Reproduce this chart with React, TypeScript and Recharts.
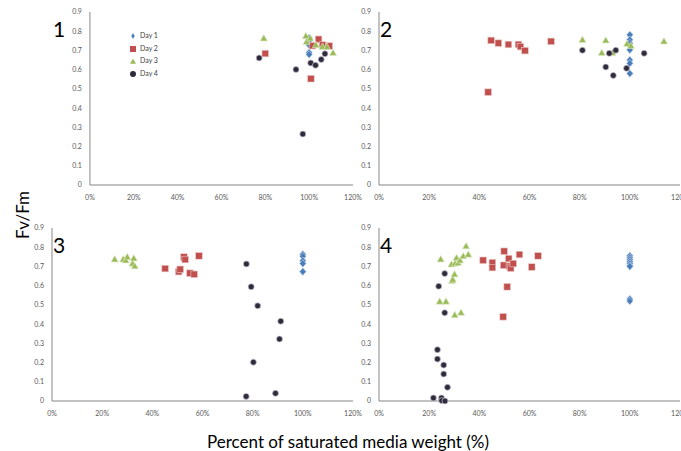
import React from "react";
import { Legend, Scatter, ScatterChart, XAxis, YAxis } from "recharts";

type Pt = { x: number; y: number };

// panel 1
const p1Day1: Pt[] = [
  { x: 100, y: 0.765 }, { x: 100, y: 0.75 }, { x: 100, y: 0.728 }, { x: 100, y: 0.689 }, { x: 100, y: 0.679 },
];
const p1Day2: Pt[] = [
  { x: 80, y: 0.684 }, { x: 100.8, y: 0.553 }, { x: 104.3, y: 0.758 }, { x: 101.5, y: 0.725 }, { x: 106.1, y: 0.728 }, { x: 109.2, y: 0.723 },
];
const p1Day3: Pt[] = [
  { x: 79.3, y: 0.763 }, { x: 98.5, y: 0.775 }, { x: 98.8, y: 0.745 }, { x: 100.5, y: 0.763 }, { x: 103.1, y: 0.728 },
  { x: 106.1, y: 0.719 }, { x: 108.1, y: 0.719 }, { x: 110.9, y: 0.687 },
];
const p1Day4: Pt[] = [
  { x: 77.2, y: 0.661 }, { x: 94, y: 0.601 }, { x: 97.1, y: 0.265 }, { x: 100.7, y: 0.635 }, { x: 102.9, y: 0.623 },
  { x: 105.5, y: 0.653 }, { x: 107.2, y: 0.683 },
];

// panel 2
const p2Day1: Pt[] = [
  { x: 100, y: 0.781 }, { x: 100, y: 0.755 }, { x: 100, y: 0.738 }, { x: 100, y: 0.703 }, { x: 100, y: 0.65 },
  { x: 100, y: 0.633 }, { x: 100, y: 0.58 },
];
const p2Day2: Pt[] = [
  { x: 43.5, y: 0.483 }, { x: 44.7, y: 0.752 }, { x: 47.6, y: 0.738 }, { x: 51.6, y: 0.731 }, { x: 55.6, y: 0.731 },
  { x: 56.4, y: 0.72 }, { x: 58.2, y: 0.699 }, { x: 68.6, y: 0.747 },
];
const p2Day3: Pt[] = [
  { x: 81.1, y: 0.755 }, { x: 88.8, y: 0.687 }, { x: 90.4, y: 0.752 }, { x: 93.1, y: 0.687 }, { x: 98.9, y: 0.734 },
  { x: 100.4, y: 0.724 }, { x: 113.6, y: 0.747 },
];
const p2Day4: Pt[] = [
  { x: 81.1, y: 0.701 }, { x: 90.4, y: 0.614 }, { x: 91.8, y: 0.685 }, { x: 93.4, y: 0.57 }, { x: 94.4, y: 0.701 },
  { x: 98.7, y: 0.607 }, { x: 105.7, y: 0.685 },
];

// panel 3
const p3Day1: Pt[] = [
  { x: 100, y: 0.763 }, { x: 100, y: 0.753 }, { x: 100, y: 0.729 }, { x: 100, y: 0.715 }, { x: 100, y: 0.673 },
];
const p3Day2: Pt[] = [
  { x: 45.1, y: 0.689 }, { x: 50.5, y: 0.673 }, { x: 51.1, y: 0.685 }, { x: 52.6, y: 0.749 }, { x: 53.1, y: 0.736 },
  { x: 55, y: 0.665 }, { x: 56.7, y: 0.659 }, { x: 58.6, y: 0.755 },
];
const p3Day3: Pt[] = [
  { x: 25, y: 0.737 }, { x: 28.4, y: 0.737 }, { x: 29.4, y: 0.732 }, { x: 30, y: 0.749 }, { x: 32.1, y: 0.715 },
  { x: 32.6, y: 0.742 }, { x: 33, y: 0.701 },
];
const p3Day4: Pt[] = [
  { x: 77.5, y: 0.713 }, { x: 79.4, y: 0.594 }, { x: 82, y: 0.495 }, { x: 91.2, y: 0.415 }, { x: 90.7, y: 0.322 },
  { x: 80.3, y: 0.202 }, { x: 77.4, y: 0.024 }, { x: 89.1, y: 0.04 },
];

// panel 4
const p4Day1: Pt[] = [
  { x: 100, y: 0.755 }, { x: 100, y: 0.745 }, { x: 100, y: 0.735 }, { x: 100, y: 0.725 }, { x: 100, y: 0.715 },
  { x: 100, y: 0.705 }, { x: 100, y: 0.7 }, { x: 100, y: 0.53 }, { x: 100, y: 0.52 },
];
const p4Day2: Pt[] = [
  { x: 41.5, y: 0.732 }, { x: 45.2, y: 0.72 }, { x: 45.2, y: 0.694 }, { x: 49.5, y: 0.438 }, { x: 49.9, y: 0.779 },
  { x: 49.7, y: 0.706 }, { x: 51.1, y: 0.594 }, { x: 51.7, y: 0.741 }, { x: 52, y: 0.701 }, { x: 52.5, y: 0.691 },
  { x: 53.5, y: 0.715 }, { x: 56, y: 0.762 }, { x: 60.9, y: 0.697 }, { x: 63.4, y: 0.755 },
];
const p4Day3: Pt[] = [
  { x: 24.6, y: 0.737 }, { x: 24.2, y: 0.517 }, { x: 26.7, y: 0.517 }, { x: 28.9, y: 0.71 }, { x: 29.1, y: 0.625 },
  { x: 29.4, y: 0.632 }, { x: 30.1, y: 0.659 }, { x: 30.3, y: 0.715 }, { x: 30.9, y: 0.744 }, { x: 31.5, y: 0.718 },
  { x: 32.3, y: 0.732 }, { x: 30.2, y: 0.447 }, { x: 32.7, y: 0.459 }, { x: 33.6, y: 0.753 }, { x: 34.7, y: 0.805 },
  { x: 35.6, y: 0.762 },
];
const p4Day4: Pt[] = [
  { x: 26.2, y: 0.663 }, { x: 23.8, y: 0.597 }, { x: 26.2, y: 0.459 }, { x: 23.3, y: 0.267 }, { x: 23.3, y: 0.218 },
  { x: 25.8, y: 0.187 }, { x: 25.8, y: 0.14 }, { x: 27.3, y: 0.071 }, { x: 21.7, y: 0.016 }, { x: 24.9, y: 0.016 },
  { x: 25, y: 0.002 }, { x: 26.3, y: 0 },
];

const xTicks = [0, 20, 40, 60, 80, 100, 120];
const yTicks = [0, 0.1, 0.2, 0.3, 0.4, 0.5, 0.6, 0.7, 0.8, 0.9];
const dayNames = ["Day 1", "Day 2", "Day 3", "Day 4"];

const BLUE = "#4a7ebb";
const RED = "#c0504d";
const GREEN = "#9bbb59";
const DARK = "#2f2b3b";
const FONT = "Lato, 'Open Sans', sans-serif";

const Diamond = (p: any) => (
  <path d={`M${p.cx},${p.cy - 3.8}L${p.cx + 3.3},${p.cy}L${p.cx},${p.cy + 3.8}L${p.cx - 3.3},${p.cy}Z`} fill={BLUE} stroke="#c9d8ee" strokeWidth={0.6} />
);
const Square = (p: any) => (
  <rect x={p.cx - 3.3} y={p.cy - 3.3} width={6.6} height={6.6} fill={RED} stroke="#ecc9c8" strokeWidth={0.6} />
);
const Triangle = (p: any) => (
  <path d={`M${p.cx},${p.cy - 3.8}L${p.cx + 3.6},${p.cy + 2.6}L${p.cx - 3.6},${p.cy + 2.6}Z`} fill={GREEN} stroke="#e1ebcc" strokeWidth={0.6} />
);
const Dot = (p: any) => <circle cx={p.cx} cy={p.cy} r={3} fill={DARK} stroke="#c8c4d6" strokeWidth={0.7} />;

function Panel({ left, top, days, label, legend }: { left: number; top: number; days: Pt[][]; label: string; legend?: boolean }) {
  const tick = { fontSize: 7, fill: "#595959", fontFamily: FONT };
  return (
    <div style={{ position: "absolute", left, top }}>
      <ScatterChart width={372} height={207} margin={{ top: 12, right: 19, bottom: 0, left: 0 }}>
        <XAxis
          type="number"
          dataKey="x"
          domain={[0, 120]}
          ticks={xTicks}
          tickFormatter={(v) => `${v}%`}
          tick={tick}
          tickLine={false}
          tickMargin={4}
          height={22}
          axisLine={{ stroke: "#868686" }}
          interval={0}
        />
        <YAxis
          type="number"
          dataKey="y"
          domain={[0, 0.9]}
          ticks={yTicks}
          tick={tick}
          tickLine={false}
          width={52}
          axisLine={{ stroke: "#868686" }}
          interval={0}
        />
        {legend && (
          <Legend
            layout="vertical"
            align="left"
            verticalAlign="top"
            iconSize={6}
            wrapperStyle={{ left: 130, top: 29, fontSize: 7, fontFamily: FONT, lineHeight: "12.7px" }}
            formatter={(v) => <span style={{ color: "#404040" }}>{v}</span>}
          />
        )}
        <Scatter name={dayNames[0]} data={days[0]} fill={BLUE} legendType="diamond" shape={Diamond} isAnimationActive={false} />
        <Scatter name={dayNames[1]} data={days[1]} fill={RED} legendType="square" shape={Square} isAnimationActive={false} />
        <Scatter name={dayNames[2]} data={days[2]} fill={GREEN} legendType="triangle" shape={Triangle} isAnimationActive={false} />
        <Scatter name={dayNames[3]} data={days[3]} fill={DARK} legendType="circle" shape={Dot} isAnimationActive={false} />
      </ScatterChart>
      <div style={{ position: "absolute", left: 53, top: 18, fontSize: 21, fontFamily: FONT, color: "#000", lineHeight: 1 }}>{label}</div>
    </div>
  );
}

export default function App() {
  return (
    <div style={{ position: "absolute", left: 0, top: 0, width: 681, height: 451, overflow: "hidden", background: "#fff" }}>
      <Panel left={327} top={0} days={[p2Day1, p2Day2, p2Day3, p2Day4]} label="2" />
      <Panel left={327} top={216} days={[p4Day1, p4Day2, p4Day3, p4Day4]} label="4" />
      <Panel left={0} top={0} days={[p1Day1, p1Day2, p1Day3, p1Day4]} label="1" legend />
      <Panel left={0} top={216} days={[p3Day1, p3Day2, p3Day3, p3Day4]} label="3" />
      <div
        style={{
          position: "absolute", left: 22, top: 215, transform: "translate(-50%, -50%) rotate(-90deg)",
          fontSize: 17, fontFamily: FONT, whiteSpace: "nowrap", color: "#000",
        }}
      >
        Fv/Fm
      </div>
      <div
        style={{
          position: "absolute", left: 348, top: 441, transform: "translate(-50%, -50%)",
          fontSize: 17, fontFamily: FONT, whiteSpace: "nowrap", color: "#000",
        }}
      >
        Percent of saturated media weight (%)
      </div>
    </div>
  );
}
